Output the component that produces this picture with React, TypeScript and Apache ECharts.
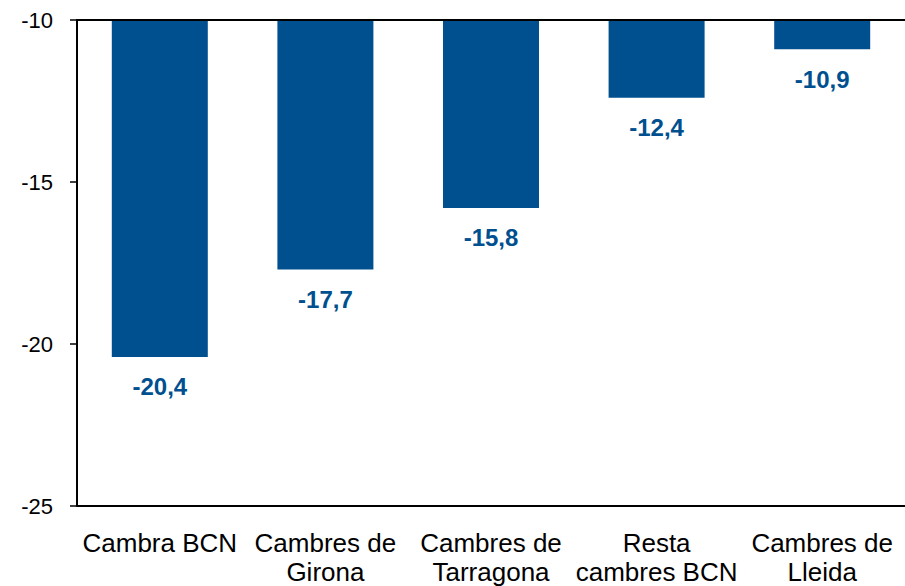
import React, { useEffect, useRef } from "react";
import * as echarts from "echarts";

const categories = [
  "Cambra BCN",
  "Cambres de\nGirona",
  "Cambres de\nTarragona",
  "Resta\ncambres BCN",
  "Cambres de\nLleida",
];
const values = [-20.4, -17.7, -15.8, -12.4, -10.9];
const yMin = -25;
const yMax = -10;
const yInterval = 5;

const BLUE = "#00508F";
const FONT = 'Arial, "Liberation Sans", sans-serif';

export default function App() {
  const ref = useRef<HTMLDivElement>(null);
  useEffect(() => {
    if (!ref.current) return;
    const chart = echarts.init(ref.current, undefined, { renderer: "svg" });
    chart.setOption({
      animation: false,
      backgroundColor: "#fff",
      grid: { left: 77, top: 20, width: 835, height: 491 },
      xAxis: [
        {
          type: "category",
          data: categories,
          position: "bottom",
          z: 10,
          axisLine: { show: true, lineStyle: { color: "#000", width: 2 } },
          axisTick: { show: false },
          axisLabel: {
            color: "#000",
            fontFamily: FONT,
            fontSize: 26,
            lineHeight: 29,
            margin: 22,
            interval: 0,
          },
        },
        {
          type: "category",
          data: categories,
          position: "top",
          z: 10,
          axisLine: { show: true, lineStyle: { color: "#000", width: 2 } },
          axisTick: { show: false },
          axisLabel: { show: false },
        },
      ],
      yAxis: {
        type: "value",
        min: yMin,
        max: yMax,
        interval: yInterval,
        z: 10,
        axisLine: { show: true, lineStyle: { color: "#000", width: 2 } },
        axisTick: { show: true, length: 7, lineStyle: { color: "#000", width: 1.5 } },
        splitLine: { show: false },
        axisLabel: {
          color: "#000",
          fontFamily: FONT,
          fontSize: 22,
          margin: 24,
        },
      },
      series: [
        {
          type: "bar",
          data: values,
          barWidth: 96,
          clip: true,
          itemStyle: { color: BLUE },
          label: {
            show: true,
            position: "bottom",
            distance: 18,
            color: BLUE,
            fontFamily: FONT,
            fontWeight: "bold",
            fontSize: 24,
            formatter: (p: any) => p.value.toFixed(1).replace(".", ","),
          },
        },
      ],
    });
    return () => chart.dispose();
  }, []);
  return (
    <div
      style={{
        position: "absolute",
        left: 0,
        top: 0,
        width: 905,
        height: 586,
        overflow: "hidden",
      }}
    >
      <div ref={ref} style={{ width: 905, height: 586 }} />
    </div>
  );
}
